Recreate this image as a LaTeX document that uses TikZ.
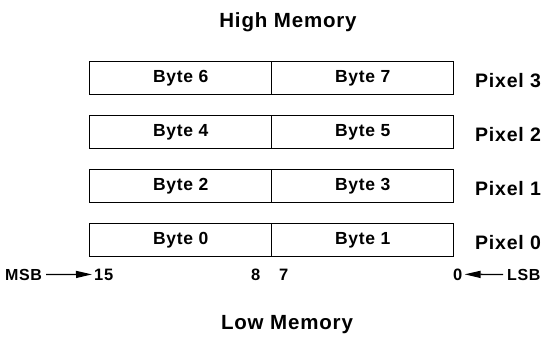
\documentclass[tikz,border=0pt]{standalone}
\usepackage{fontspec}
\setmainfont{Liberation Sans}
\newfontfamily\lblfont{Liberation Sans}[LetterSpace=4]
\usetikzlibrary{arrows.meta}
\begin{document}
\begin{tikzpicture}[x=1pt,y=-1pt,
  bytecell/.style={draw,line width=1.4pt,minimum width=182pt,minimum height=33pt,inner sep=0pt,anchor=north west,font=\lblfont\fontsize{17.5}{20}\selectfont\bfseries},
  pixlabel/.style={font=\lblfont\fontsize{19.5}{22}\selectfont\bfseries,anchor=base west,inner sep=0pt},
  heading/.style={font=\lblfont\fontsize{20.5}{24}\selectfont\bfseries,anchor=base,inner sep=0pt},
  bitnum/.style={font=\lblfont\fontsize{16.5}{19}\selectfont\bfseries,anchor=base west,inner sep=1pt},
  endlabel/.style={font=\lblfont\fontsize{16}{19}\selectfont\bfseries,anchor=base west,inner sep=1pt},
  bitarrow/.style={-{Triangle[length=16pt,width=7pt]},line width=1.3pt,shorten <=3pt,shorten >=1pt}]
\useasboundingbox (0,0) rectangle (547,338);
\node[heading] (high) at (288,27) {High Memory};
\node[heading] (low) at (287,329) {Low Memory};
% pixel rows: each 16-bit pixel spans two bytes
\foreach \p/\y in {3/61,2/115,1/169,0/223}{
  \pgfmathtruncatemacro{\hi}{2*\p}
  \pgfmathtruncatemacro{\lo}{2*\p+1}
  \node[bytecell] (b\hi) at (89,\y) {Byte \hi};
  \node[bytecell] (b\lo) at (271,\y) {Byte \lo};
  \node[pixlabel] (p\p) at (475,\y+26) {Pixel \p};
}
% bit numbering below pixel 0
\node[endlabel] (msb) at (4,280) {MSB};
\node[bitnum] (n15) at (93,280) {15};
\node[bitnum] (n8) at (250,280) {8};
\node[bitnum] (n7) at (278,280) {7};
\node[bitnum] (n0) at (452,280) {0};
\node[endlabel] (lsb) at (506,280) {LSB};
\draw[bitarrow] (msb.east) -- (n15.west);
\draw[bitarrow] (lsb.west) -- (n0.east);
\end{tikzpicture}
\end{document}
